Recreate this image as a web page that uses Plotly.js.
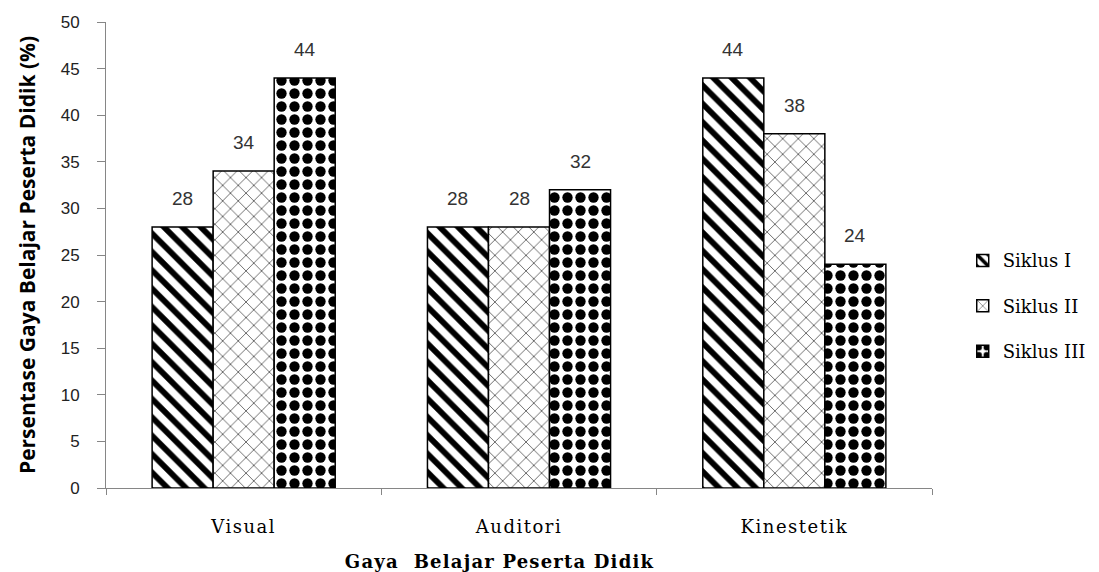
<!DOCTYPE html>
<html>
<head>
<meta charset="utf-8">
<script src="https://cdn.plot.ly/plotly-3.0.1.min.js"></script>
<style>
  html, body { margin: 0; padding: 0; background: #ffffff; }
  #chart { width: 1099px; height: 572px; }
  /* wider tracking for the serif labels */
  #chart .xtick text { letter-spacing: 1.5px; }
  #chart .annotation[data-index="0"] text { letter-spacing: 1.2px; }
</style>
</head>
<body>
<div id="chart"></div>
<script>
// Learning-style categories and the percentage for each cycle
const categories = ["Visual", "Auditori", "Kinestetik"];
const siklus1 = [28, 28, 44];
const siklus2 = [34, 28, 38];
const siklus3 = [44, 32, 24];
const seriesNames = ["Siklus I", "Siklus II", "Siklus III"];

const serif = "'DejaVu Serif', 'Liberation Serif', serif";
const sans = "'Liberation Sans', Arial, sans-serif";

const BARGAP = 0.335;

// Fill pattern per cycle
const patterns = [
  { shape: "\\", size: 13, solidity: 0.45, fgcolor: "#000000", bgcolor: "#ffffff" },
  { shape: "x", size: 11, solidity: 0.1, fgcolor: "#000000", bgcolor: "#ffffff" },
  { shape: ".", size: 13, solidity: 0.5, fgcolor: "#000000", bgcolor: "#ffffff" }
];

const values = [siklus1, siklus2, siklus3];

const traces = values.map((vals, i) => ({
  type: "bar",
  name: seriesNames[i],
  x: categories,
  y: vals,
  legendgroup: "g" + i,
  marker: {
    color: "#ffffff",
    line: { color: "#000000", width: 1.5 },
    pattern: patterns[i]
  },
  hoverinfo: "skip"
}));

// X-axis title, written as a paper annotation
const annotations = [{
  xref: "paper", yref: "paper",
  x: 0.476, y: -0.157,
  xanchor: "center", yanchor: "middle",
  text: "<b>Gaya&nbsp; Belajar Peserta Didik</b>",
  showarrow: false,
  font: { family: serif, size: 18, color: "#000000" }
}];

// Value labels sitting above each bar, placed on the category axis
// at the centre of each grouped bar
const barWidth = (1 - BARGAP) / values.length;
values.forEach((vals, i) => {
  vals.forEach((v, j) => {
    annotations.push({
      xref: "x", yref: "y",
      x: j + (i - (values.length - 1) / 2) * barWidth,
      y: v,
      text: String(v),
      showarrow: false,
      yanchor: "bottom",
      yshift: 16,
      font: { family: sans, size: 19, color: "#333333" }
    });
  });
});

const layout = {
  width: 1099,
  height: 572,
  margin: { l: 106, r: 167, t: 22, b: 84 },
  paper_bgcolor: "#ffffff",
  plot_bgcolor: "#ffffff",
  barmode: "group",
  bargap: BARGAP,
  bargroupgap: 0,
  showlegend: true,
  annotations: annotations,
  legend: {
    xref: "container",
    x: 0.876, xanchor: "left",
    y: 0.39, yanchor: "middle",
    font: { family: serif, size: 18, color: "#000000" },
    traceorder: "grouped",
    tracegroupgap: 19,
    itemwidth: 30,
    bgcolor: "rgba(0,0,0,0)"
  },
  xaxis: {
    type: "category",
    range: [-0.5, 2.5],
    showline: true,
    linecolor: "#868686",
    linewidth: 1,
    ticks: "outside",
    tickson: "boundaries",
    ticklen: 6,
    tickcolor: "#868686",
    showgrid: false,
    zeroline: false,
    ticklabelstandoff: 22,
    tickfont: { family: serif, size: 18, color: "#000000" }
  },
  yaxis: {
    range: [0, 50],
    dtick: 5,
    showline: true,
    linecolor: "#868686",
    linewidth: 1,
    ticks: "outside",
    ticklen: 8,
    tickcolor: "#868686",
    showgrid: false,
    zeroline: false,
    ticklabelstandoff: 14,
    tickfont: { family: sans, size: 17, color: "#222222" },
    title: {
      text: "<b>Persentase Gaya Belajar Peserta Didik (%)</b>",
      font: { family: "'Open Sans', 'Liberation Sans', sans-serif", size: 21, color: "#000000" },
      standoff: 19
    }
  }
};

Plotly.newPlot("chart", traces, layout, { displayModeBar: false, staticPlot: true });
</script>
</body>
</html>
